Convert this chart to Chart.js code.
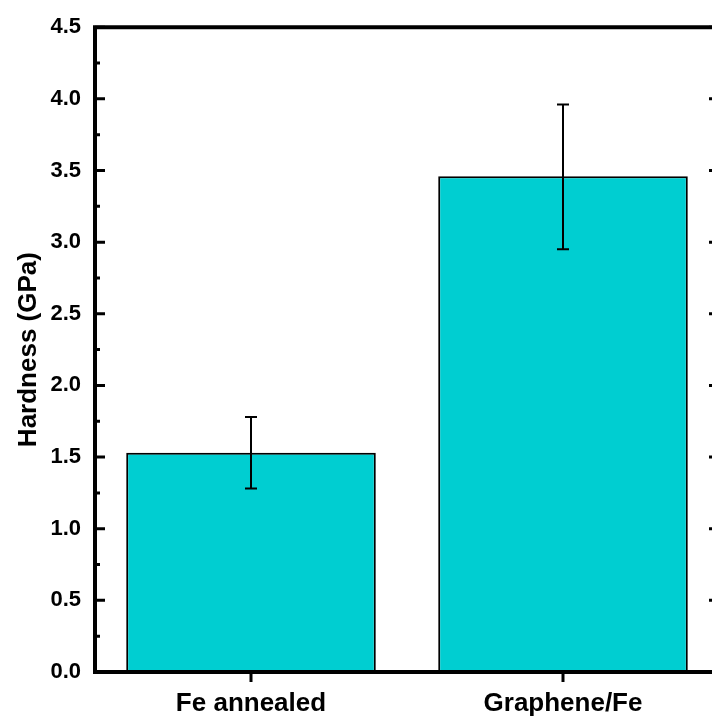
<!DOCTYPE html>
<html>
<head>
<meta charset="utf-8">
<script src="https://cdn.jsdelivr.net/npm/chart.js@4"></script>
<style>
  html, body { margin: 0; padding: 0; background: #fff; overflow: hidden; }
  #wrap { width: 712px; height: 720px; overflow: hidden; }
</style>
</head>
<body>
<div id="wrap"><canvas id="graphCanvas" width="740" height="720"></canvas></div>
<script>
// data
var samples = ['Fe annealed', 'Graphene/Fe'];
var hardness = [1.53, 3.46];
var errLow = [1.28, 2.95];
var errHigh = [1.78, 3.96];
var yTicks = [0, 0.5, 1.0, 1.5, 2.0, 2.5, 3.0, 3.5, 4.0, 4.5];

var fontName = "'Liberation Sans', Arial, sans-serif";

// error bars, frame and tick marks drawn through the scales
var framePlugin = {
  id: 'frame',
  afterDatasetsDraw: function (chart) {
    var ctx = chart.ctx;
    var area = chart.chartArea;
    var x = chart.scales.x;
    var y = chart.scales.y;
    ctx.save();

    // error bars
    ctx.strokeStyle = '#000';
    ctx.lineWidth = 2;
    for (var i = 0; i < samples.length; i++) {
      var cx = x.getPixelForValue(i);
      var top = y.getPixelForValue(errHigh[i]);
      var bot = y.getPixelForValue(errLow[i]);
      ctx.beginPath();
      ctx.moveTo(cx, top); ctx.lineTo(cx, bot);
      ctx.moveTo(cx - 6, top); ctx.lineTo(cx + 6, top);
      ctx.moveTo(cx - 6, bot); ctx.lineTo(cx + 6, bot);
      ctx.stroke();
    }

    // frame
    ctx.lineWidth = 4;
    ctx.beginPath();
    ctx.rect(area.left, area.top, area.right - area.left, area.bottom - area.top);
    ctx.stroke();

    // y ticks, inward on both sides, with minor ticks
    ctx.lineWidth = 3;
    ctx.beginPath();
    for (var j = 0; j < yTicks.length; j++) {
      var py = y.getPixelForValue(yTicks[j]);
      ctx.moveTo(area.left, py); ctx.lineTo(area.left + 10, py);
      ctx.moveTo(area.right, py); ctx.lineTo(area.right - 10, py);
      if (j < yTicks.length - 1) {
        var pm = y.getPixelForValue((yTicks[j] + yTicks[j + 1]) / 2);
        ctx.moveTo(area.left, pm); ctx.lineTo(area.left + 5, pm);
        ctx.moveTo(area.right, pm); ctx.lineTo(area.right - 5, pm);
      }
    }
    // x ticks, outward
    for (var k = 0; k < samples.length; k++) {
      var px = x.getPixelForValue(k);
      ctx.moveTo(px, area.bottom); ctx.lineTo(px, area.bottom + 10);
    }
    ctx.stroke();
    ctx.restore();
  }
};

var chartdata = {
  labels: samples,
  datasets: [
    {
      label: 'Hardness',
      backgroundColor: '#00CED1',
      borderColor: '#000000',
      borderWidth: 2,
      borderSkipped: 'bottom',
      barPercentage: 0.8,
      categoryPercentage: 1.0,
      data: hardness
    }
  ]
};

var graphTarget = document.getElementById('graphCanvas');

var barGraph = new Chart(graphTarget, {
  type: 'bar',
  data: chartdata,
  plugins: [framePlugin],
  options: {
    responsive: false,
    animation: false,
    layout: { padding: { left: 0, top: 25, right: 21, bottom: 0 } },
    plugins: {
      legend: { display: false },
      tooltip: { enabled: false }
    },
    scales: {
      x: {
        offset: true,
        afterFit: function (scale) { scale.height = 48; },
        grid: { display: false, drawTicks: false },
        border: { display: false },
        ticks: {
          color: '#000',
          padding: 16,
          font: { family: fontName, size: 26, weight: 'bold' }
        }
      },
      y: {
        min: 0,
        max: 4.5,
        afterFit: function (scale) { scale.width = 95; },
        grid: { display: false, drawTicks: false },
        border: { display: false },
        ticks: {
          stepSize: 0.5,
          color: '#000',
          padding: 14,
          font: { family: fontName, size: 22, weight: 'bold' },
          callback: function (v) { return v.toFixed(1); }
        },
        title: {
          display: true,
          text: 'Hardness (GPa)',
          color: '#000',
          padding: { top: 13, bottom: 0 },
          font: { family: fontName, size: 26, weight: 'bold' }
        }
      }
    }
  }
});
</script>
</body>
</html>
